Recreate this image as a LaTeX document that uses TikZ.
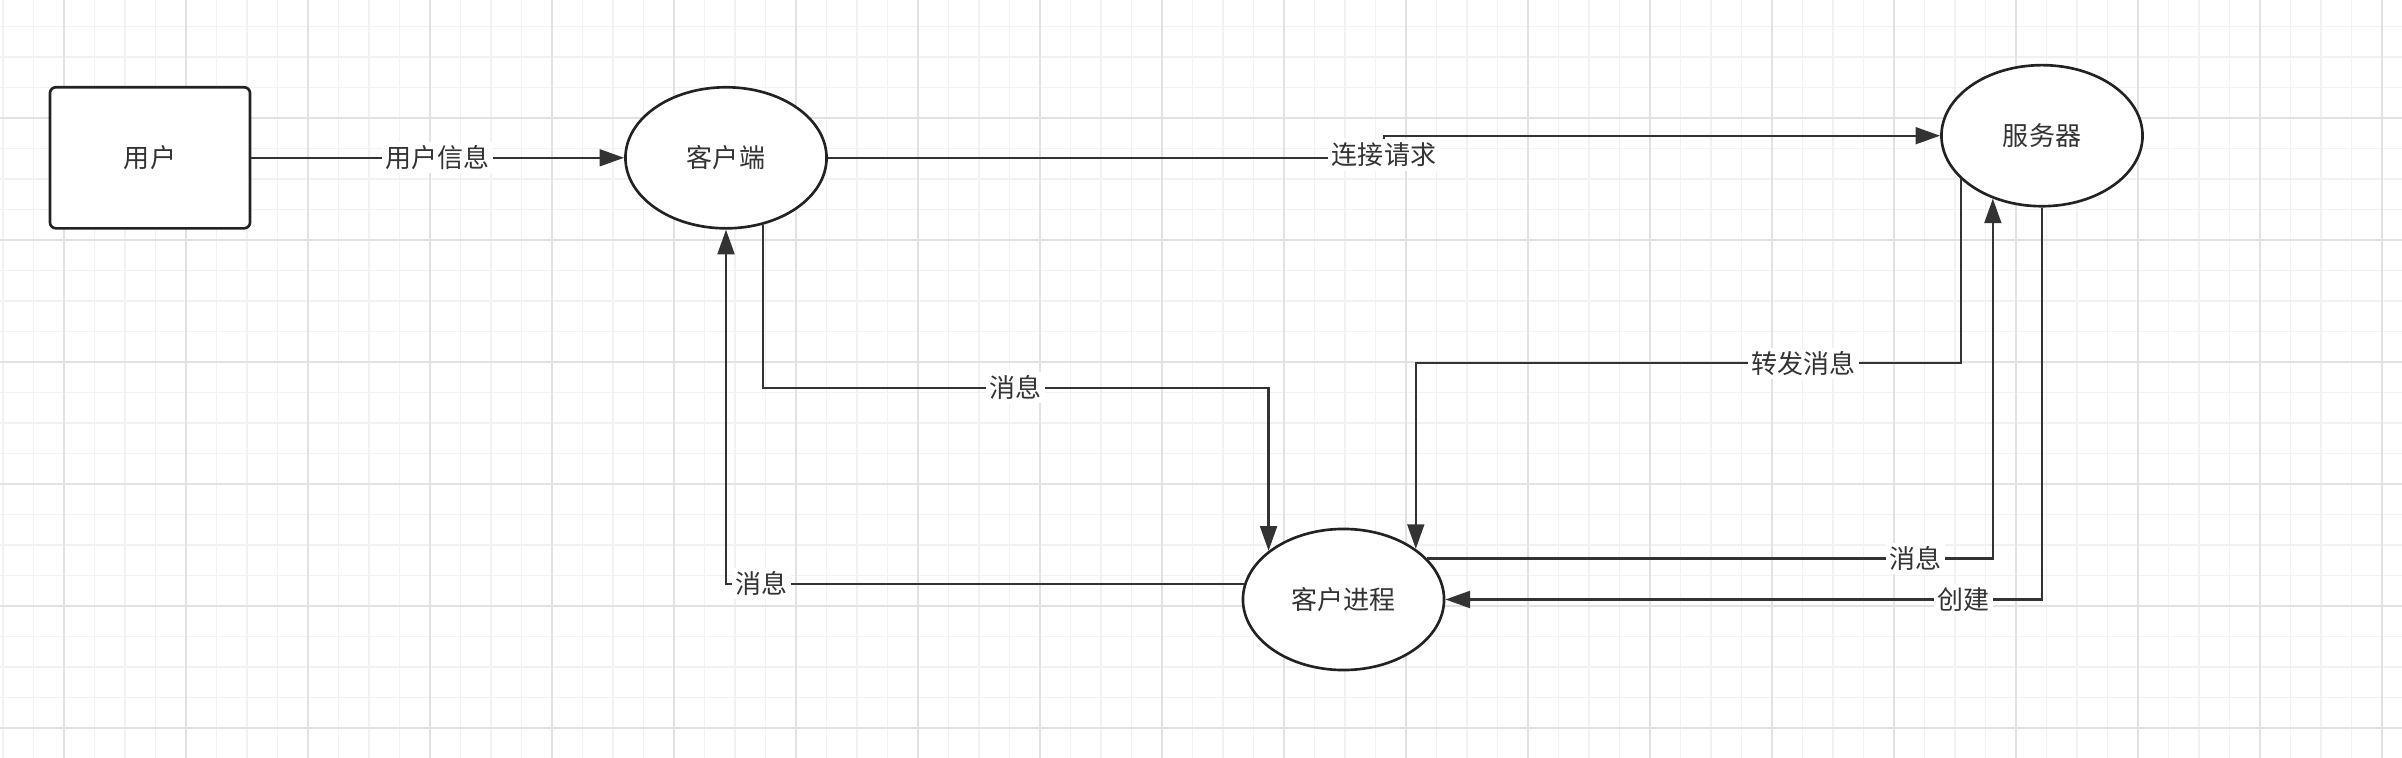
\documentclass[tikz,border=0pt]{standalone}
\usepackage{fontspec}
\usepackage{xcolor}
\usetikzlibrary{shapes.geometric,arrows.meta}
\newfontfamily\cjk{Noto Sans CJK SC}
\definecolor{ink}{HTML}{333333}
\definecolor{edge}{HTML}{222222}
\definecolor{gridminor}{HTML}{F2F2F2}
\definecolor{gridmajor}{HTML}{E2E2E2}

\begin{document}
\begin{tikzpicture}[x=0.01cm, y=-0.01cm,
    every node/.style={font=\cjk\fontsize{7.4}{9}\selectfont, text=ink},
    proc/.style={ellipse, draw=edge, line width=0.75pt, fill=white,
        minimum width=2.01cm, minimum height=1.41cm, inner sep=0pt},
    entity/.style={rectangle, rounded corners=0.06cm, draw=edge, line width=0.75pt,
        fill=white, minimum width=2cm, minimum height=1.41cm},
    flow/.style={draw=ink, line width=0.65pt, -{Triangle[length=7pt,width=4.8pt]}},
    lbl/.style={fill=white, inner sep=1pt}]
    \useasboundingbox (0,0) rectangle (2402,758);
    \fill[white] (0,0) rectangle (2402,758);
    \foreach \x in {3,33.5,...,2402}
        \draw[gridminor, line width=0.3pt] (\x,0) -- (\x,758);
    \foreach \y in {26.5,57,...,758}
        \draw[gridminor, line width=0.3pt] (0,\y) -- (2402,\y);
    \foreach \x in {64,186,...,2402}
        \draw[gridmajor, line width=0.4pt] (\x,0) -- (\x,758);
    \foreach \y in {118,240,...,758}
        \draw[gridmajor, line width=0.4pt] (0,\y) -- (2402,\y);

    \node[entity] (user) at (150,157.8) {用户};
    \node[proc] (client) at (726,157.8) {客户端};
    \node[proc] (server) at (2042,135.7) {服务器};
    \node[proc] (cproc) at (1343.5,599.5) {客户进程};
    \coordinate (jog) at (1384,155);

    \draw[flow] (user) -- node[lbl]{用户信息} (client);
    \draw[flow] (client.east) -| (jog) node[lbl]{连接请求} |- (server.west);
    \draw[flow] (client.-61) |- node[lbl, pos=0.75]{消息} (cproc.147 |- 0,387.7) -- (cproc.147);
    \draw[flow] (cproc.171) -| node[lbl, pos=0.466]{消息} (client.south);
    \draw[flow] (server.208.6) |- node[lbl, pos=0.644]{转发消息} (cproc.35 |- 0,363.3) -- (cproc.35);
    \draw[flow] (cproc.26.3) -| node[lbl, pos=0.432]{消息} (server.232.8);
    \draw[flow] (server.south) |- node[lbl, pos=0.566]{创建} (cproc.east);
\end{tikzpicture}
\end{document}
